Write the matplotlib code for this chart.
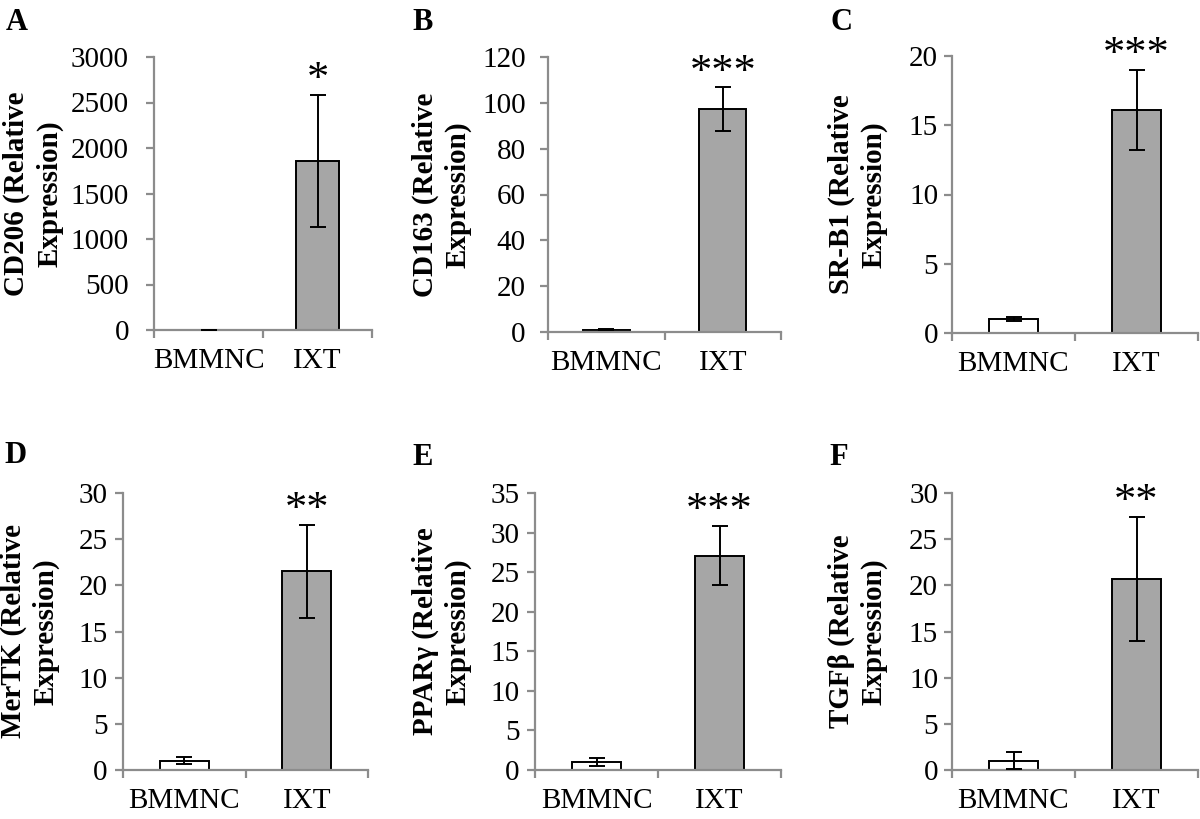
import matplotlib
matplotlib.use('Agg')
import matplotlib.pyplot as plt
import numpy as np

plt.rcParams['font.family'] = ['Liberation Serif', 'DejaVu Serif']

groups = ['BMMNC', 'IXT']
letters = ['A', 'B', 'C', 'D', 'E', 'F']
genes = ['CD206', 'CD163', 'SR-B1', 'MerTK', 'PPARγ', 'TGFβ']
means = [[1, 1857], [1, 97.3], [1, 16.1], [1, 21.5], [1, 27.1], [1, 20.7]]
errors = [[0.3, 730], [0.3, 9.4], [0.12, 2.9], [0.4, 5.0], [0.5, 3.7], [0.9, 6.7]]
stars = ['*', '***', '***', '**', '***', '**']
ymax = [3000, 120, 20, 30, 35, 30]
ystep = [500, 20, 5, 5, 5, 5]

# layout in pixels (left, top, right, bottom) of each axes box
W, H = 1200, 819
boxes = [(154, 57, 372, 330), (548, 57, 781, 332), (952, 56, 1198, 333),
         (123, 493, 368, 770), (535, 493, 781, 770), (952, 493, 1198, 770)]
letter_xy = [(6, 8), (412, 8), (831, 8), (4, 441), (412, 443), (829, 443)]
label_x = [-0.417, -0.326, -0.26, -0.257, -0.256, -0.26]
ytick_pad = [12, 10, 4, 5, 5, 4]

grey = '#8c8c8c'
fs = 21
fig = plt.figure(figsize=(12, 8.19), dpi=100)

for i in range(6):
    l, t, r, b = boxes[i]
    ax = fig.add_axes([l / W, 1 - b / H, (r - l) / W, (b - t) / H])
    x = np.arange(len(groups))
    ax.bar(x, means[i], width=0.4, color=['white', '#a6a6a6'],
           edgecolor='black', linewidth=1.4, zorder=2)
    ax.errorbar(x, means[i], yerr=errors[i], fmt='none', ecolor='black',
                elinewidth=1.4, capsize=6, capthick=1.4, zorder=3, clip_on=False)
    ax.set_xlim(-0.5, 1.5)
    ax.set_ylim(0, ymax[i])
    ax.set_yticks(np.arange(0, ymax[i] + ystep[i] / 2, ystep[i]))
    ax.set_xticks([-0.5, 0.5, 1.5])
    ax.set_xticklabels([])
    ax.set_xticks(x, minor=True)
    ax.set_xticklabels(groups, minor=True)
    for s in ['top', 'right']:
        ax.spines[s].set_visible(False)
    for s in ['left', 'bottom']:
        ax.spines[s].set_color(grey)
        ax.spines[s].set_linewidth(1.6)
    ax.tick_params(axis='y', which='major', direction='out', length=6, width=1.6,
                   color=grey, labelsize=fs, pad=ytick_pad[i])
    ax.tick_params(axis='x', which='major', direction='out', length=6, width=1.6,
                   color=grey)
    ax.tick_params(axis='x', which='minor', length=0, labelsize=fs, pad=13)
    ax.set_ylabel(genes[i] + ' (Relative\nExpression)', fontsize=21,
                  fontweight='bold', linespacing=1.28)
    ax.yaxis.set_label_coords(label_x[i], 0.5)

    top = (means[i][1] + errors[i][1]) / ymax[i] + 0.09
    ax.annotate(stars[i], xy=(1, top), xycoords=('data', 'axes fraction'),
                xytext=(0, -15), textcoords='offset points',
                ha='center', va='baseline', fontsize=32, annotation_clip=False)

    fig.text(letter_xy[i][0] / W, 1 - letter_xy[i][1] / H, letters[i],
             fontsize=22, fontweight='bold', ha='left', va='top')

fig.savefig('out.png', dpi=100)
